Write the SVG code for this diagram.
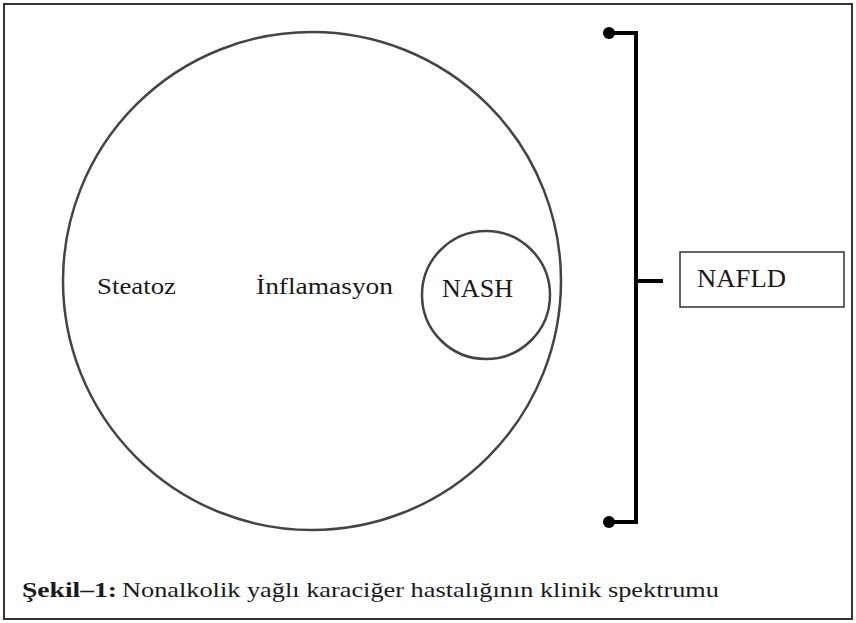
<svg xmlns="http://www.w3.org/2000/svg" width="856" height="623" viewBox="0 0 856 623">
<style>
text{font-family:"Liberation Serif","Times New Roman",serif;fill:#1a1a1a}
.c{fill:none;stroke:#444;stroke-width:2.5}
.b{stroke:#000;stroke-width:4;fill:none}
</style>
<rect x="0" y="0" width="856" height="623" fill="#fff"/>
<rect id="frame" x="4" y="4" width="848" height="615" fill="none" stroke="#333" stroke-width="2"/>
<g id="steatoz"><circle class="c" cx="312" cy="281" r="249"/><text x="97" y="294" font-size="24" textLength="79" lengthAdjust="spacingAndGlyphs">Steatoz</text></g>
<g id="inflamasyon"><text x="256" y="294" font-size="24" textLength="137" lengthAdjust="spacingAndGlyphs">İnflamasyon</text></g>
<g id="nash"><circle class="c" cx="486" cy="295" r="64"/><text x="442" y="297" font-size="25" textLength="71" lengthAdjust="spacingAndGlyphs">NASH</text></g>
<g id="nafld"><rect x="680" y="252" width="164" height="55" fill="#fff" stroke="#333" stroke-width="1.5"/><text x="697" y="287" font-size="25" textLength="89" lengthAdjust="spacingAndGlyphs">NAFLD</text></g>
<g id="connectors">
<path class="b" d="M609 33H636V522H609M636 281H663"/>
<circle cx="609" cy="33" r="6"/>
<circle cx="609" cy="522" r="6"/>
</g>
<g id="caption"><text y="597" font-size="21"><tspan x="22" font-weight="bold" textLength="95" lengthAdjust="spacingAndGlyphs">Şekil–1:</tspan><tspan x="122" textLength="597" lengthAdjust="spacingAndGlyphs">Nonalkolik yağlı karaciğer hastalığının klinik spektrumu</tspan></text></g>
</svg>
